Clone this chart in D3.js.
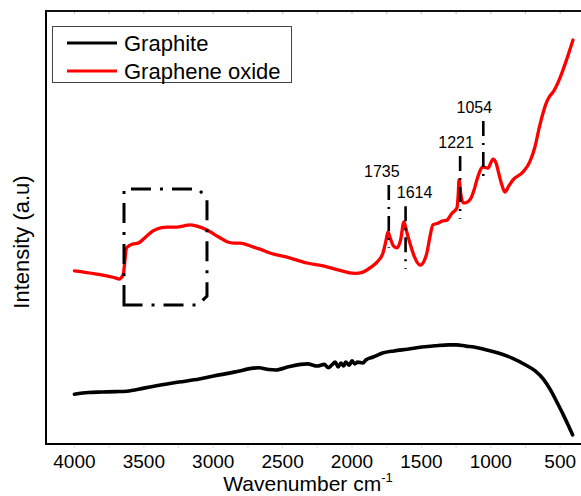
<!DOCTYPE html>
<html>
<head>
<meta charset="utf-8">
<script src="https://cdn.jsdelivr.net/npm/d3@7"></script>
<style>
  html, body { margin: 0; padding: 0; background: #fff; }
  svg { display: block; font-family: Arial, "Liberation Sans", Helvetica, sans-serif; }
</style>
</head>
<body>
<svg id="chart" width="581" height="496"></svg>
<script>
// FTIR spectra: wavenumber (cm^-1) vs. intensity (a.u.)
const grapheneOxideWavenumber = [4000, 3850, 3700, 3680, 3650, 3624, 3580, 3542, 3480, 3434, 3380, 3333, 3261, 3210, 3168, 3117, 3045, 2960, 2901, 2850, 2807, 2720, 2663, 2591, 2450, 2325, 2200, 2100, 2040, 2015, 1980, 1921, 1860, 1820, 1777, 1755, 1741, 1725, 1700, 1676, 1650, 1626, 1605, 1583, 1550, 1510, 1480, 1461, 1440, 1417, 1381, 1350, 1316, 1280, 1244, 1235, 1229, 1215, 1200, 1186, 1150, 1120, 1100, 1056, 1021, 984, 960, 949, 920, 898, 870, 840, 769, 720, 682, 650, 624, 600, 574, 555, 502, 460, 408];
const grapheneOxideIntensity = [40.0, 39.3, 38.3, 38.1, 39.0, 45.3, 46.2, 46.4, 48.0, 49.2, 49.9, 50.1, 50.1, 50.4, 50.6, 50.3, 49.4, 47.8, 46.7, 46.4, 46.4, 45.6, 45.0, 44.1, 43.0, 41.8, 41.1, 40.2, 39.7, 39.5, 39.4, 39.7, 40.9, 42.0, 44.1, 47.0, 49.0, 47.6, 45.7, 45.3, 47.1, 51.3, 48.9, 46.4, 43.2, 41.3, 42.3, 44.1, 47.6, 50.6, 51.0, 51.5, 51.7, 53.3, 54.5, 57.5, 61.0, 57.5, 55.7, 55.7, 56.4, 58.7, 61.0, 64.0, 63.7, 65.8, 64.7, 63.3, 59.8, 58.2, 59.6, 61.0, 62.8, 65.1, 68.6, 73.2, 76.4, 78.8, 80.4, 81.1, 84.5, 88.2, 93.3];

const graphiteWavenumber = [4000, 3900, 3800, 3700, 3623, 3500, 3400, 3248, 3100, 2997, 2850, 2672, 2600, 2547, 2450, 2322, 2250, 2200, 2170, 2147, 2120, 2100, 2080, 2060, 2046, 2020, 2000, 1980, 1960, 1922, 1900, 1847, 1780, 1697, 1600, 1497, 1400, 1300, 1246, 1180, 1121, 1050, 946, 850, 746, 680, 621, 570, 521, 480, 446, 410];
const graphiteIntensity = [11.5, 11.9, 12.0, 12.1, 12.2, 12.9, 13.5, 14.3, 15.0, 15.7, 16.6, 17.6, 17.2, 17.1, 17.9, 18.5, 18.0, 18.4, 17.6, 18.2, 18.9, 17.8, 18.7, 18.0, 18.9, 18.2, 19.2, 18.5, 18.9, 18.7, 19.4, 20.1, 21.0, 21.5, 21.9, 22.4, 22.7, 22.9, 22.9, 22.6, 22.4, 21.9, 21.0, 19.9, 18.2, 16.9, 15.0, 12.5, 9.5, 6.9, 4.6, 2.1];

const seriesNames = ["Graphite", "Graphene oxide"];
const seriesColors = ["#000000", "#ff0000"];

const xTickValues = [4000, 3500, 3000, 2500, 2000, 1500, 1000, 500];
const xMinorTickValues = [3750, 3250, 2750, 2250, 1750, 1250, 750];

// Marked peaks with the top/bottom of each guide line
const peakWavenumber = [1735, 1614, 1221, 1054];
const peakLabel = ["1735", "1614", "1221", "1054"];
const peakLineTop = [59.8, 54.9, 66.5, 74.6];
const peakLineBottom = [45.3, 40.4, 52.0, 60.3];

// O-H stretching region highlighted with a dash-dot frame
const ohRegion = [3643, 3045];
const ohRegionIntensity = [32.1, 58.9];

const svg = d3.select("#chart");
const plotLeft = 46, plotRight = 581, plotTop = 11, plotBottom = 444;

const x = d3.scaleLinear().domain([4205, 350]).range([plotLeft, plotRight]);
const y = d3.scaleLinear().domain([0, 100]).range([plotBottom, plotTop]);

// faint tick marks
const allTicks = xTickValues.concat(xMinorTickValues);
svg.append("g").selectAll("line").data(allTicks).join("line")
  .attr("x1", d => x(d)).attr("x2", d => x(d))
  .attr("y1", plotTop).attr("y2", plotTop + 3)
  .attr("stroke", "#bbb").attr("stroke-width", 1);
svg.append("g").selectAll("line").data(allTicks).join("line")
  .attr("x1", d => x(d)).attr("x2", d => x(d))
  .attr("y1", plotBottom).attr("y2", plotBottom + 4)
  .attr("stroke", "#ddd").attr("stroke-width", 1);

// frame: left, bottom, top
svg.append("line").attr("x1", plotLeft).attr("x2", plotLeft).attr("y1", plotTop - 1).attr("y2", plotBottom + 1)
  .attr("stroke", "#000").attr("stroke-width", 2);
svg.append("line").attr("x1", plotLeft - 1).attr("x2", plotRight).attr("y1", plotBottom).attr("y2", plotBottom)
  .attr("stroke", "#000").attr("stroke-width", 2);
svg.append("line").attr("x1", plotLeft).attr("x2", plotRight).attr("y1", plotTop).attr("y2", plotTop)
  .attr("stroke", "#111").attr("stroke-width", 2);

// tick labels
svg.append("g").selectAll("text").data(xTickValues).join("text")
  .attr("x", d => x(d)).attr("y", 468)
  .attr("text-anchor", "middle")
  .attr("font-size", 19).attr("fill", "#000")
  .text(d => d);

// axis titles
const xt = svg.append("text").attr("x", 308).attr("y", 491)
  .attr("text-anchor", "middle").attr("font-size", 21).attr("fill", "#000");
xt.append("tspan").text("Wavenumber cm");
xt.append("tspan").attr("dy", -9).attr("font-size", 13).text("-1");

svg.append("text")
  .attr("transform", "translate(29,242) rotate(-90)")
  .attr("text-anchor", "middle").attr("font-size", 22).attr("fill", "#000")
  .text("Intensity (a.u)");

// spectra
const line = d3.line().x(d => x(d[0])).y(d => y(d[1])).curve(d3.curveMonotoneX);
const graphite = graphiteWavenumber.map((w, i) => [w, graphiteIntensity[i]]);
const go = grapheneOxideWavenumber.map((w, i) => [w, grapheneOxideIntensity[i]]);

svg.append("path").datum(graphite).attr("d", line)
  .attr("fill", "none").attr("stroke", seriesColors[0]).attr("stroke-width", 3.6)
  .attr("stroke-linejoin", "round").attr("stroke-linecap", "round");
svg.append("path").datum(go).attr("d", line)
  .attr("fill", "none").attr("stroke", seriesColors[1]).attr("stroke-width", 3.3)
  .attr("stroke-linejoin", "round").attr("stroke-linecap", "round");

// peak guide lines and labels (labels nudged sideways so they clear the curve)
const labelShift = [-7, 9, -4, -9];
const dashDot = "15,7,2,7";
peakWavenumber.forEach((w, i) => {
  svg.append("line")
    .attr("x1", x(w)).attr("x2", x(w))
    .attr("y1", y(peakLineTop[i])).attr("y2", y(peakLineBottom[i]))
    .attr("stroke", "#000").attr("stroke-width", 2.6).attr("stroke-dasharray", dashDot);
  svg.append("text")
    .attr("x", x(w) + labelShift[i]).attr("y", y(peakLineTop[i]) - 8)
    .attr("text-anchor", "middle").attr("font-size", 16).attr("fill", "#000")
    .text(peakLabel[i]);
});

// dash-dot frame with chamfered right corners
const bx0 = x(ohRegion[0]), bx1 = x(ohRegion[1]);
const by0 = y(ohRegionIntensity[1]), by1 = y(ohRegionIntensity[0]);
const ch = 9;
const framePath = d3.path();
framePath.moveTo(bx0, by1);
framePath.lineTo(bx0, by0);
framePath.lineTo(bx1 - ch, by0);
framePath.lineTo(bx1, by0 + ch);
framePath.lineTo(bx1, by1 - ch);
framePath.lineTo(bx1 - ch, by1);
framePath.closePath();
svg.append("path").attr("d", framePath.toString())
  .attr("fill", "none").attr("stroke", "#000").attr("stroke-width", 3)
  .attr("stroke-dasharray", "20,9,3,9");

// legend
const lg = svg.append("g");
lg.append("rect").attr("x", 52.5).attr("y", 26.5).attr("width", 239).attr("height", 56)
  .attr("fill", "#fff").attr("stroke", "#444").attr("stroke-width", 1);
seriesNames.forEach((name, i) => {
  const ly = 43 + i * 28;
  lg.append("line").attr("x1", 67).attr("x2", 117).attr("y1", ly).attr("y2", ly)
    .attr("stroke", seriesColors[i]).attr("stroke-width", 3.2);
  lg.append("text").attr("x", 124).attr("y", ly).attr("dy", "0.36em")
    .attr("font-size", 22).attr("fill", "#000").text(name);
});
</script>
</body>
</html>
